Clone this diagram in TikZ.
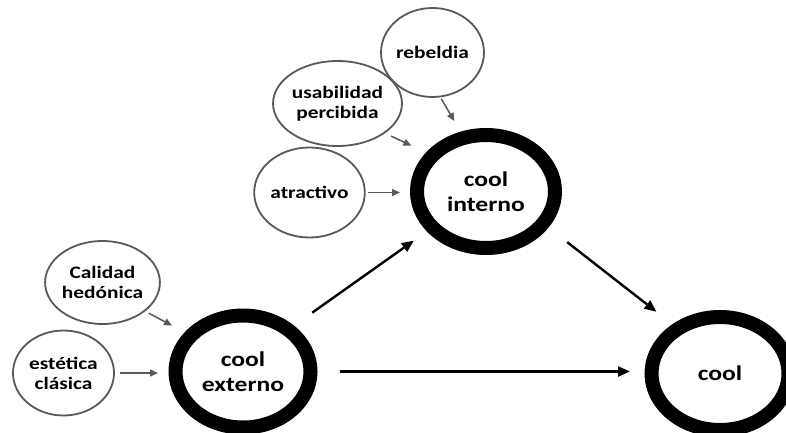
\documentclass[tikz,border=0pt]{standalone}
\usepackage{fontspec}
\setmainfont{Carlito}[FakeStretch=1.22]
\usetikzlibrary{shapes.geometric,arrows.meta}
\begin{document}
\begin{tikzpicture}[x=1pt,y=-1pt,
  small/.style={ellipse,draw=black!65,line width=1.8pt,fill=white,inner sep=0pt,align=center,
    font=\fontsize{17.5}{20}\selectfont\bfseries,minimum width=103pt,minimum height=87pt},
  big/.style={ellipse,draw=black,line width=14pt,fill=white,inner sep=0pt,align=center,
    font=\fontsize{21}{25}\selectfont\bfseries,minimum width=137pt,minimum height=113pt},
  garrow/.style={draw=black!65,line width=1.5pt,-{Triangle[length=8pt,width=7pt]}},
  barrow/.style={draw=black,line width=2.4pt,-{Triangle[length=12pt,width=10pt]}}]
\useasboundingbox[fill=white] (0,0) rectangle (786,433);
% small ellipses
\node[small,minimum height=89pt] (reb) at (432.5,52.5) {rebeldia};
\node[small,minimum height=85pt] (usa) at (337.5,103.5) {usabilidad\\percibida};
\node[small,minimum height=90pt] (atr) at (309.5,192.5) {atractivo};
\node[small,minimum height=83pt] (cal) at (102.5,282.5) {Calidad\\hedónica};
\node[small,minimum width=101pt,minimum height=85pt] (est) at (63.5,373) {estética\\clásica};
% big ellipses
\node[big,minimum width=138pt] (int) at (486,191.5) {cool\\interno};
\node[big,minimum width=135pt,minimum height=112pt] (ext) at (243,371.5) {cool\\externo};
\node[big] (res) at (720,373.5) {cool};
% gray arrows
\draw[garrow,shorten <=1.5pt,shorten >=12.3pt] (reb.-80.6) -- (int.113.5);
\draw[garrow,shorten <=6.7pt,shorten >=16.2pt] (usa.-32.4) -- (int.147.4);
\draw[garrow,shorten <=2pt,shorten >=10pt] (atr.east) -- (atr.east -| int.west);
\draw[garrow,shorten <=4pt,shorten >=14.4pt] (cal.-34.8) -- (ext.146.8);
\draw[garrow,shorten <=5pt,shorten >=10.5pt] (est.east) -- (est.east -| ext.west);
% black arrows
\draw[barrow,shorten <=22.4pt,shorten >=16pt] (ext.42.3) -- (int.214.6);
\draw[barrow,shorten <=23.7pt,shorten >=20.2pt] (int.-30.9) -- (res.134.3);
\draw[barrow,shorten <=22.5pt,shorten >=14.5pt] (ext.east) -- (ext.east -| res.west);
\end{tikzpicture}
\end{document}
